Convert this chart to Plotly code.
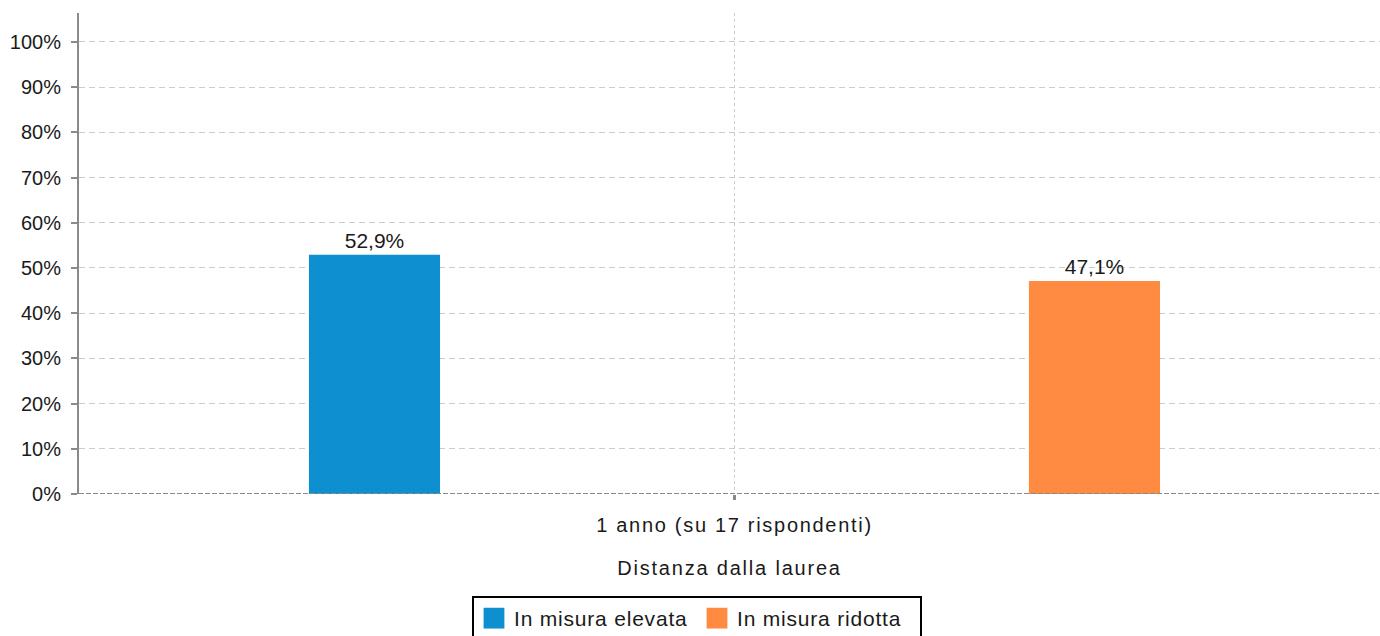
import plotly.graph_objects as go

categories = ["1 anno (su 17 rispondenti)"]
series_names = ["In misura elevata", "In misura ridotta"]
elevata = [52.9]
ridotta = [47.1]
colors = ["#0e8fd0", "#ff8b42"]
y_ticks = [0, 10, 20, 30, 40, 50, 60, 70, 80, 90, 100]

font_family = "Liberation Sans, Arial, sans-serif"
text_col = "#1a1a1a"

fig = go.Figure()
offsets = [-0.3246, 0.2246]
for name, vals, col, off in zip(series_names, [elevata, ridotta], colors, offsets):
    fig.add_trace(go.Bar(
        x=categories, y=vals, name=name, marker=dict(color=col, line=dict(width=0)),
        offset=off, width=0.1, showlegend=False,
        texttemplate="%{y:.1f}%", textposition="outside",
        textfont=dict(size=21, color=text_col, family=font_family),
        cliponaxis=False,
    ))
    # legend proxy (square swatch)
    fig.add_trace(go.Scatter(
        x=[None], y=[None], mode="markers", name=name,
        marker=dict(symbol="square", size=16, color=col, line=dict(width=0)),
        showlegend=True,
    ))

fig.add_shape(type="line", xref="paper", yref="y", x0=0, x1=1, y0=0, y1=0,
              line=dict(color="#8a8a8a", width=2, dash="5px,2px"), layer="above")

fig.update_layout(
    width=1380, height=636,
    margin=dict(l=79, r=0, t=13, b=142),
    paper_bgcolor="white", plot_bgcolor="white",
    separators=",.",
    font=dict(family=font_family, size=20, color=text_col),
    showlegend=True,
    legend=dict(orientation="h", xref="container", yref="container",
                x=472 / 1380, xanchor="left", y=1 - 596 / 636, yanchor="top",
                bordercolor="#000", borderwidth=2, font=dict(size=21, color=text_col),
                itemwidth=30, entrywidth=178, traceorder="normal", itemsizing="trace"),
    xaxis=dict(
        type="category", range=[-0.5, 0.4924],
        showgrid=True, gridcolor="#cccccc", griddash="3px,3px", gridwidth=1,
        showline=False, zeroline=False,
        ticks="outside", ticklen=5, tickwidth=3, tickcolor="#8a8a8a",
        ticklabelstandoff=8,
        tickfont=dict(size=20, color=text_col),
        title=dict(text="Distanza dalla laurea", font=dict(size=20, color=text_col), standoff=25),
    ),
    yaxis=dict(
        range=[0, 106.4], tickvals=y_ticks, ticktext=[f"{v}%" for v in y_ticks],
        showgrid=True, gridcolor="#cccccc", griddash="6px,4px", gridwidth=1,
        zeroline=False, showline=True, linecolor="#8a8a8a", linewidth=2,
        ticks="outside", ticklen=6, tickwidth=2, tickcolor="#8a8a8a",
        ticklabelstandoff=6,
        tickfont=dict(size=20, color=text_col),
    ),
)

post = """
document.body.style.margin = '0';
var gd = document.getElementById('{plot_id}');
gd.querySelectorAll('.xtick text').forEach(function(t){ t.style.letterSpacing = '1.7px'; });
gd.querySelectorAll('text.xtitle').forEach(function(t){ t.style.letterSpacing = '1.8px'; });
gd.querySelectorAll('text.legendtext').forEach(function(t){ t.style.letterSpacing = '0.8px'; });
gd.querySelectorAll('.legend .legendpoints path').forEach(function(p){
  var tr = p.getAttribute('transform') || '';
  p.setAttribute('transform', tr + ' scale(1.3)');
});
"""

fig.write_html("out.html", post_script=post, config={"displayModeBar": False})
